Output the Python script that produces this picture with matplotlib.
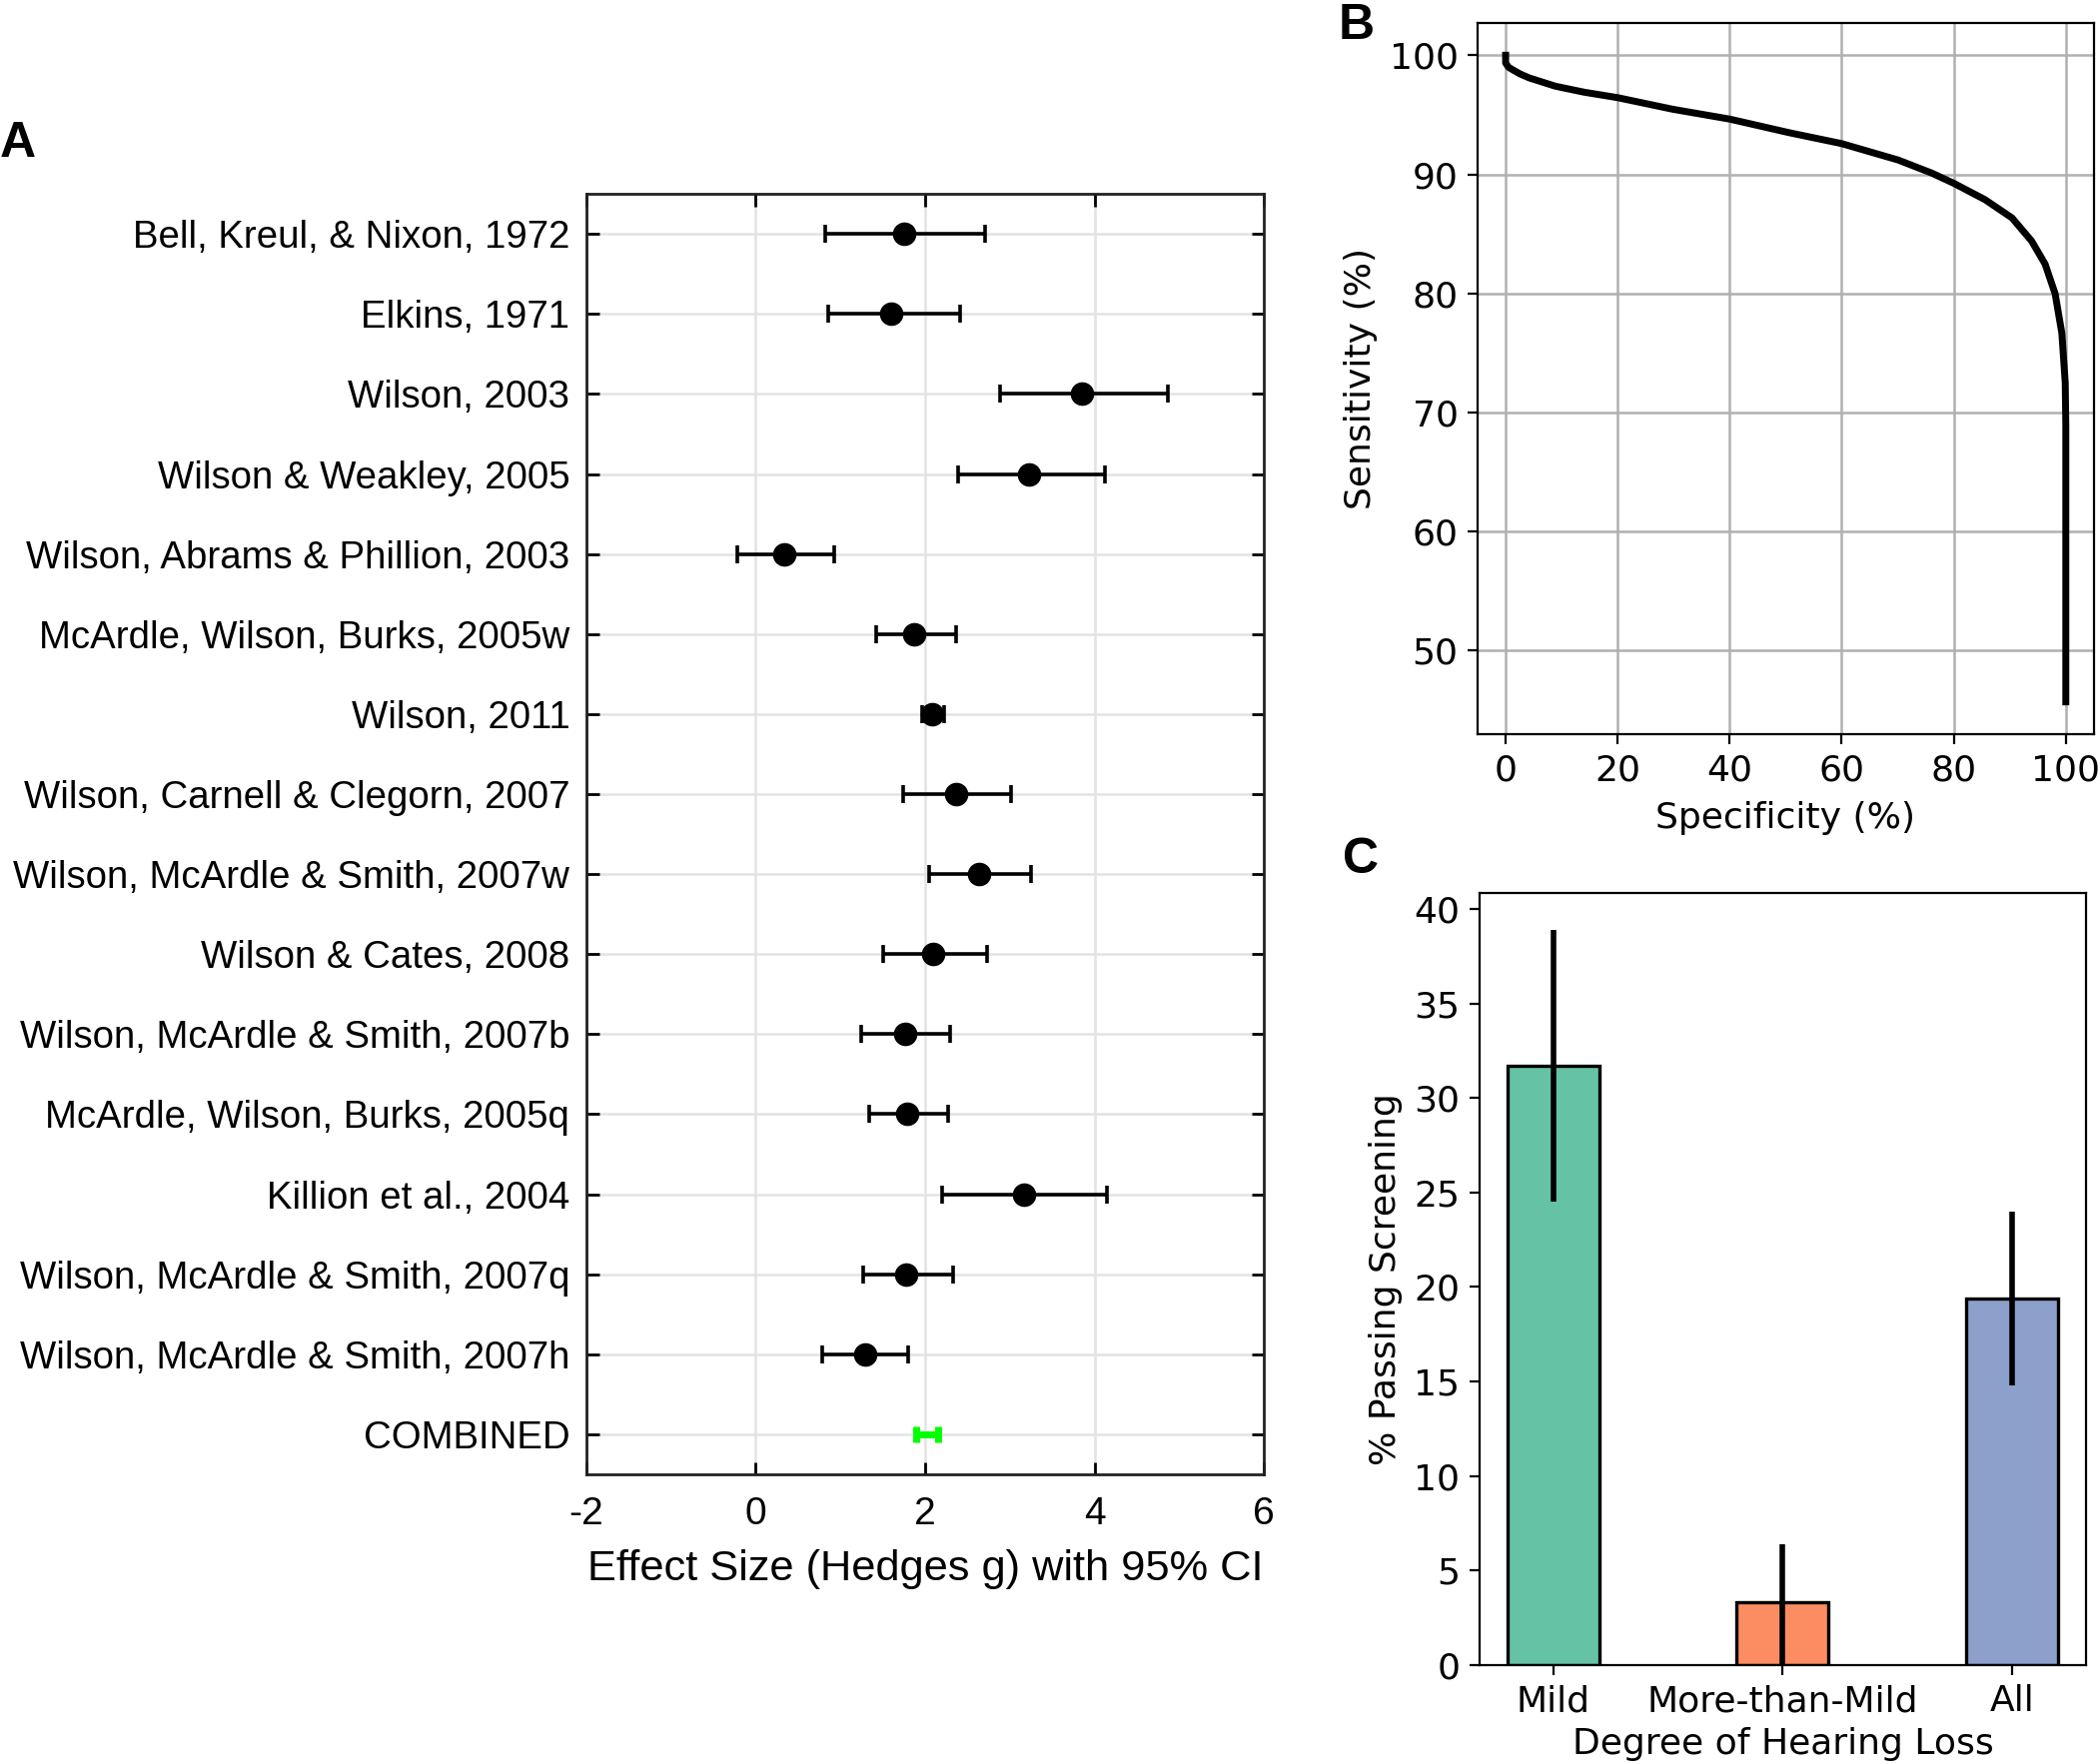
import matplotlib.pyplot as plt

# Panel A: forest plot data
studies = ['Bell, Kreul, & Nixon, 1972', 'Elkins, 1971', 'Wilson, 2003',
           'Wilson & Weakley, 2005', 'Wilson, Abrams & Phillion, 2003',
           'McArdle, Wilson, Burks, 2005w', 'Wilson, 2011',
           'Wilson, Carnell & Clegorn, 2007', 'Wilson, McArdle & Smith, 2007w',
           'Wilson & Cates, 2008', 'Wilson, McArdle & Smith, 2007b',
           'McArdle, Wilson, Burks, 2005q', 'Killion et al., 2004',
           'Wilson, McArdle & Smith, 2007q', 'Wilson, McArdle & Smith, 2007h']
effect = [1.75, 1.60, 3.85, 3.23, 0.34, 1.87, 2.08, 2.36, 2.64, 2.10, 1.76, 1.79, 3.17, 1.78, 1.29]
ci_low = [0.82, 0.85, 2.88, 2.39, -0.22, 1.42, 1.96, 1.74, 2.05, 1.50, 1.24, 1.34, 2.20, 1.27, 0.79]
ci_high = [2.71, 2.41, 4.87, 4.12, 0.93, 2.37, 2.23, 3.01, 3.25, 2.73, 2.30, 2.27, 4.15, 2.33, 1.80]
combined = 2.02
combined_low = 1.89
combined_high = 2.15

# Panel B: ROC-like curve
specificity = [0, 0, 0.5, 1.2, 2.5, 4.2, 8.9, 14, 20, 29.8, 40, 50.6, 60, 70.1, 76.1,
               80, 85.6, 90.4, 93.9, 96.3, 98.1, 99.3, 99.9, 100, 100]
sensitivity = [100, 99.36, 99.0, 98.8, 98.45, 98.1, 97.4, 96.9, 96.44, 95.47, 94.64,
               93.5, 92.58, 91.2, 90.1, 89.25, 87.87, 86.34, 84.4, 82.47, 79.97, 76.65,
               72.5, 69.0, 45.7]

# Panel C: bar chart
groups = ['Mild', 'More-than-Mild', 'All']
pass_pct = [31.7, 3.3, 19.4]
err_low = [24.5, 0.0, 14.8]
err_high = [38.9, 6.4, 24.0]
bar_colors = ['#66c2a5', '#fc8d62', '#8da0cb']

fig = plt.figure(figsize=(10.5, 8.83), dpi=200)

# ---- Panel A ----
axA = fig.add_axes([0.2795, 0.1642, 0.3229, 0.7259])
arial = 'Liberation Sans'
ypos = list(range(len(studies)))
xerr = [[e - l for e, l in zip(effect, ci_low)], [h - e for e, h in zip(effect, ci_high)]]
axA.errorbar(effect, ypos, xerr=xerr, fmt='o', color='black', ms=7.5,
             elinewidth=1.3, capsize=3.3, capthick=1.3, zorder=3)
axA.errorbar([combined], [len(studies)],
             xerr=[[combined - combined_low], [combined_high - combined]],
             fmt='none', ecolor='#00ff00', elinewidth=2.5, capsize=3.0, capthick=2.5, zorder=3)
labels = studies + ['COMBINED']
axA.set_yticks(range(len(labels)))
axA.set_yticklabels(labels, fontfamily=arial, fontsize=13.8)
axA.set_ylim(len(labels) - 0.5, -0.5)
axA.set_xlim(-2, 6)
axA.set_xticks([-2, 0, 2, 4, 6])
axA.set_xticklabels(['-2', '0', '2', '4', '6'], fontfamily=arial, fontsize=14)
axA.set_xlabel('Effect Size (Hedges g) with 95% CI', fontfamily=arial, fontsize=15.6, labelpad=6)
axA.grid(True, color='#e3e3e3', lw=0.9)
axA.set_axisbelow(True)
axA.tick_params(direction='in', length=4.5, width=1, top=True, right=True, pad=6)
axA.tick_params(axis='x', pad=8)
for s in axA.spines.values():
    s.set_linewidth(1)
    s.set_color('#222222')

# ---- Panel B ----
axB = fig.add_axes([0.7043, 0.5838, 0.2937, 0.4032])
axB.plot(specificity, sensitivity, color='black', lw=2.5)
axB.grid(True, color='#b0b0b0', lw=0.9)
axB.set_xticks([0, 20, 40, 60, 80, 100])
axB.set_yticks([50, 60, 70, 80, 90, 100])
axB.tick_params(labelsize=13)
axB.set_xlabel('Specificity (%)', fontsize=13, labelpad=5)
axB.set_ylabel('Sensitivity (%)', fontsize=13)

# ---- Panel C ----
axC = fig.add_axes([0.7052, 0.0561, 0.2891, 0.4377])
xc = range(len(groups))
yerr = [[p - l for p, l in zip(pass_pct, err_low)], [h - p for p, h in zip(pass_pct, err_high)]]
axC.bar(xc, pass_pct, width=0.4, color=bar_colors, edgecolor='black', lw=1.2)
axC.errorbar(xc, pass_pct, yerr=yerr, fmt='none', ecolor='black', elinewidth=2, capsize=0)
axC.set_xticks(list(xc))
axC.set_xticklabels(groups)
axC.set_yticks(range(0, 41, 5))
axC.tick_params(labelsize=13)
axC.set_xlabel('Degree of Hearing Loss', fontsize=13, labelpad=3)
axC.set_ylabel('% Passing Screening', fontsize=13)

# panel letters
fig.text(0.0, 0.911, 'A', fontsize=18, fontweight='bold', fontfamily=arial)
fig.text(0.638, 0.978, 'B', fontsize=18, fontweight='bold', fontfamily=arial)
fig.text(0.640, 0.505, 'C', fontsize=18, fontweight='bold', fontfamily=arial)

fig.savefig('out.png', dpi=200)
